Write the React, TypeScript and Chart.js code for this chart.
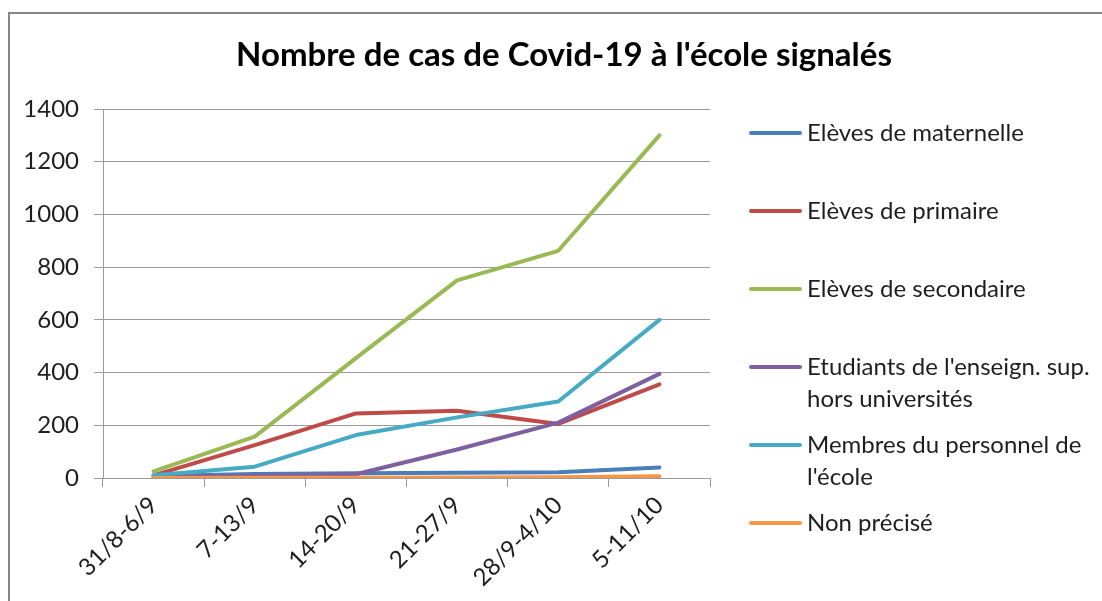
import React, { useEffect, useRef } from 'react';
import { Chart, registerables } from 'chart.js';

Chart.register(...registerables);

const chartTitle = "Nombre de cas de Covid-19 à l'école signalés";
const categories = ['31/8-6/9', '7-13/9', '14-20/9', '21-27/9', '28/9-4/10', '5-11/10'];
const seriesNames = [
  'Elèves de maternelle',
  'Elèves de primaire',
  'Elèves de secondaire',
  "Etudiants de l'enseign. sup.\nhors universités",
  "Membres du personnel de\nl'école",
  'Non précisé',
];
const maternelle = [8, 15, 18, 20, 22, 40];
const primaire = [10, 125, 245, 255, 205, 355];
const secondaire = [25, 157, 455, 750, 862, 1300];
const etudiants = [4, 8, 14, 108, 210, 395];
const personnel = [10, 43, 163, 230, 290, 600];
const nonPrecise = [0, 1, 1, 2, 3, 7];
const seriesValues = [maternelle, primaire, secondaire, etudiants, personnel, nonPrecise];
const seriesColors = ['#4A7EBB', '#BE4B48', '#98B954', '#7D60A0', '#46AAC5', '#F79646'];
const yMin = 0;
const yMax = 1400;
const yStep = 200;

const FONT = 'Lato, "Noto Sans", sans-serif';
const GRID = '#9a9a9a';
const TEXT = '#1e1e1e';

const overlayPlugin = {
  id: 'overlay',
  beforeDraw(chart: any) {
    const ctx = chart.ctx;
    ctx.save();
    ctx.fillStyle = '#ffffff';
    ctx.fillRect(0, 0, chart.width, chart.height);
    ctx.strokeStyle = '#868686';
    ctx.lineWidth = 2;
    ctx.beginPath();
    ctx.moveTo(9, chart.height + 2);
    ctx.lineTo(9, 13);
    ctx.lineTo(chart.width + 2, 13);
    ctx.stroke();
    ctx.restore();
  },
  afterDraw(chart: any) {
    const ctx = chart.ctx;
    ctx.save();
    ctx.fillStyle = '#000000';
    ctx.font = `bold 33px ${FONT}`;
    ctx.textAlign = 'center';
    ctx.textBaseline = 'alphabetic';
    ctx.fillText(chartTitle, 564, 66);

    ctx.font = `24px ${FONT}`;
    ctx.textAlign = 'left';
    ctx.textBaseline = 'middle';
    seriesNames.forEach((name, i) => {
      const y = 133 + i * 78;
      ctx.strokeStyle = seriesColors[i];
      ctx.lineWidth = 4;
      ctx.lineCap = 'round';
      ctx.beginPath();
      ctx.moveTo(751, y);
      ctx.lineTo(800, y);
      ctx.stroke();
      ctx.fillStyle = TEXT;
      name.split('\n').forEach((line, j) => {
        ctx.fillText(line, 807, y + j * 32);
      });
    });
    ctx.restore();
  },
};

export default function App() {
  const canvasRef = useRef<HTMLCanvasElement | null>(null);

  useEffect(() => {
    let chart: Chart | null = null;
    let cancelled = false;
    const make = () => {
      if (cancelled || !canvasRef.current) return;
      chart = new Chart(canvasRef.current, {
        type: 'line',
        data: {
          labels: categories,
          datasets: seriesNames.map((name, i) => ({
            label: name,
            data: seriesValues[i],
            borderColor: seriesColors[i],
            backgroundColor: seriesColors[i],
            borderWidth: 4,
            pointRadius: 0,
            pointHoverRadius: 0,
            tension: 0,
            borderCapStyle: 'round',
            borderJoinStyle: 'round',
            fill: false,
            order: seriesNames.length - i,
          })),
        },
        options: {
          responsive: false,
          animation: false,
          events: [],
          layout: { padding: { left: 0, top: 109, right: 392, bottom: 0 } },
          plugins: {
            legend: { display: false },
            title: { display: false },
            tooltip: { enabled: false },
          },
          scales: {
            x: {
              offset: true,
              grid: {
                offset: true,
                drawOnChartArea: false,
                drawTicks: true,
                tickLength: 9,
                color: GRID,
                tickColor: GRID,
              },
              border: { display: true, color: GRID },
              ticks: {
                autoSkip: false,
                minRotation: 45,
                maxRotation: 45,
                padding: 4,
                color: TEXT,
                font: { family: FONT, size: 24 },
              },
              afterFit(scale: any) {
                scale.height = 123;
              },
            },
            y: {
              min: yMin,
              max: yMax,
              ticks: {
                stepSize: yStep,
                padding: 15,
                color: TEXT,
                font: { family: FONT, size: 24 },
                callback: (v: any) => String(v),
              },
              grid: {
                color: GRID,
                tickColor: GRID,
                tickLength: 9,
                drawTicks: true,
              },
              border: { display: true, color: GRID },
              afterFit(scale: any) {
                scale.width = 103;
              },
            },
          },
        },
        plugins: [overlayPlugin],
      } as any);
    };
    const fonts = (document as any).fonts;
    if (fonts && fonts.load) {
      Promise.all([fonts.load(`24px Lato`), fonts.load(`bold 33px Lato`)])
        .catch(() => null)
        .then(make);
    } else {
      make();
    }
    return () => {
      cancelled = true;
      if (chart) chart.destroy();
    };
  }, []);

  return (
    <div style={{ position: 'absolute', left: 0, top: 0, width: 1102, height: 601, overflow: 'hidden', background: '#fff' }}>
      <canvas ref={canvasRef} width={1102} height={601} style={{ display: 'block' }} />
    </div>
  );
}
